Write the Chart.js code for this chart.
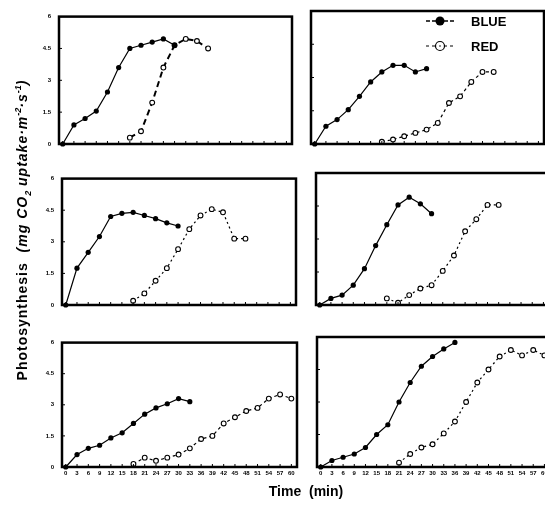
<!DOCTYPE html>
<html lang="en">
<head>
    <meta charset="UTF-8">
    <title>Photosynthesis - Blue vs Red</title>
    <script src="https://cdn.jsdelivr.net/npm/chart.js"></script>
    <style>
        html, body { margin: 0; padding: 0; background: #fff; overflow: hidden; }
        #app { position: relative; width: 545px; height: 510px; overflow: hidden; font-family: "Liberation Sans", Arial, sans-serif; }
        #app canvas { position: absolute; }
        .ytitle {
            position: absolute; left: -167px; top: 221px; width: 370px; height: 18px;
            line-height: 18px; text-align: center; transform: rotate(-90deg);
            font-weight: bold; font-size: 14px; letter-spacing: 1px; color: #000; white-space: nowrap;
        }
        .ytitle i { font-style: italic; }
        .ytitle sub, .ytitle sup { font-size: 9px; letter-spacing: 0; }
        .xtitle {
            position: absolute; left: 256px; top: 483px; width: 100px; text-align: center;
            font-weight: bold; font-size: 14px; color: #000;
        }
        .legend { position: absolute; left: 425px; top: 14px; font-weight: bold; font-size: 13px; color: #000; }
        .legend div { height: 25px; line-height: 16px; display: flex; align-items: flex-start; }
        .legend svg { margin-right: 16px; }
    </style>
</head>
<body>
    <div id="app">
        <canvas id="p1"></canvas>
        <canvas id="p2"></canvas>
        <canvas id="p3"></canvas>
        <canvas id="p4"></canvas>
        <canvas id="p5"></canvas>
        <canvas id="p6"></canvas>

        <div class="ytitle">Photosynthesis &nbsp;<i>(mg CO<sub>2</sub> uptake·m<sup>-2</sup>·s<sup>-1</sup>)</i></div>
        <div class="xtitle">Time &nbsp;(min)</div>

        <div class="legend">
            <div>
                <svg width="30" height="14"><line x1="1" y1="7" x2="29" y2="7" stroke="#000" stroke-width="1.5" stroke-dasharray="4,2"/><circle cx="15" cy="7" r="4.5" fill="#000"/></svg>BLUE
            </div>
            <div>
                <svg width="30" height="14"><line x1="1" y1="7" x2="29" y2="7" stroke="#000" stroke-width="1.2" stroke-dasharray="3,3"/><circle cx="15" cy="7" r="4.5" fill="#fff" stroke="#000" stroke-width="1.2"/><circle cx="15" cy="7" r="0.8" fill="#000"/></svg>RED
            </div>
        </div>
    </div>

    <script>
        // time axis (min) and photosynthesis axis tick labels
        const timeTicks = [0, 3, 6, 9, 12, 15, 18, 21, 24, 27, 30, 33, 36, 39, 42, 45, 48, 51, 54, 57, 60];
        const yTicks = [0, 1.5, 3, 4.5, 6];
        const step = 3;

        // values, one reading every 3 min
        // blue series all start at t = 0, red series start later
        const blue1 = [0, 0.9, 1.2, 1.55, 2.45, 3.6, 4.5, 4.65, 4.8, 4.95, 4.65];
        const red1Start = 18;
        const red1 = [0.3, 0.6, 1.95, 3.6, 4.65, 4.95, 4.85, 4.5];

        const blue2 = [0, 0.8, 1.1, 1.55, 2.15, 2.8, 3.25, 3.55, 3.55, 3.25, 3.4];
        const red2Start = 18;
        const red2 = [0.1, 0.2, 0.35, 0.5, 0.65, 0.95, 1.85, 2.15, 2.8, 3.25, 3.25];

        const blue3 = [0, 1.75, 2.5, 3.25, 4.2, 4.35, 4.4, 4.25, 4.1, 3.9, 3.75];
        const red3Start = 18;
        const red3 = [0.2, 0.55, 1.15, 1.75, 2.65, 3.6, 4.25, 4.55, 4.4, 3.15, 3.15];

        const blue4 = [0, 0.3, 0.45, 0.9, 1.65, 2.7, 3.65, 4.55, 4.9, 4.6, 4.15];
        const red4Start = 18;
        const red4 = [0.3, 0.1, 0.45, 0.75, 0.9, 1.55, 2.25, 3.35, 3.9, 4.55, 4.55];

        const blue5 = [0, 0.6, 0.9, 1.05, 1.4, 1.65, 2.1, 2.55, 2.85, 3.05, 3.3, 3.15];
        const red5Start = 18;
        const red5 = [0.15, 0.45, 0.3, 0.45, 0.6, 0.9, 1.35, 1.5, 2.1, 2.4, 2.7, 2.85, 3.3, 3.5, 3.3];

        const blue6 = [0, 0.3, 0.45, 0.6, 0.9, 1.5, 1.95, 3.0, 3.9, 4.65, 5.1, 5.45, 5.75];
        const red6Start = 21;
        const red6 = [0.2, 0.6, 0.9, 1.05, 1.55, 2.1, 3.0, 3.9, 4.5, 5.1, 5.4, 5.15, 5.4, 5.15];

        function toPoints(start, values) {
            return values.map((v, i) => ({ x: start + step * i, y: v }));
        }

        // thick box round the plot area plus small inward tick marks
        const framePlugin = {
            id: 'frame',
            afterDraw(chart) {
                const { ctx, chartArea: a, scales } = chart;
                ctx.save();
                ctx.strokeStyle = '#000';
                ctx.lineWidth = 1;
                ctx.beginPath();
                timeTicks.forEach(t => {
                    const x = scales.x.getPixelForValue(t);
                    ctx.moveTo(x, a.bottom);
                    ctx.lineTo(x, a.bottom - 3);
                });
                yTicks.forEach(v => {
                    const y = scales.y.getPixelForValue(v);
                    ctx.moveTo(a.left, y);
                    ctx.lineTo(a.left + 3, y);
                });
                ctx.stroke();
                ctx.lineWidth = 2.5;
                ctx.strokeRect(a.left, a.top, a.right - a.left, a.bottom - a.top);
                ctx.restore();
            }
        };

        // plot boxes per row (the scanned figure is slightly skewed)
        const rows = [
            { top: 11, bottom: 144, cols: [{ left: 59, right: 292 }, { left: 311, right: 544 }] },
            { top: 173, bottom: 305, cols: [{ left: 62, right: 296 }, { left: 316, right: 549 }] },
            { top: 337, bottom: 467, cols: [{ left: 62, right: 297 }, { left: 317, right: 550 }] }
        ];
        const yAxisW = 45, xAxisH = 16, padTop = 6, padRight = 10;

        function makePanel(id, col, row, blue, redStart, red, redDash, redWidth) {
            const r = rows[row];
            const box = { left: r.cols[col].left, right: r.cols[col].right, top: r.top, bottom: r.bottom };
            const canvas = document.getElementById(id);
            const w = box.right - box.left + yAxisW + padRight;
            const h = box.bottom - box.top + padTop + xAxisH;
            canvas.width = w;
            canvas.height = h;
            canvas.style.width = w + 'px';
            canvas.style.height = h + 'px';
            canvas.style.left = (box.left - yAxisW) + 'px';
            canvas.style.top = (box.top - padTop) + 'px';

            const tickFont = { family: '"Liberation Sans", Arial, sans-serif', size: 6, weight: 'bold' };

            new Chart(canvas.getContext('2d'), {
                type: 'line',
                data: {
                    datasets: [
                        {
                            label: 'BLUE',
                            data: toPoints(0, blue),
                            borderColor: '#000',
                            borderWidth: 1.2,
                            pointRadius: 2.6,
                            pointBackgroundColor: '#000',
                            pointBorderColor: '#000',
                            pointBorderWidth: 0,
                            tension: 0,
                            clip: false
                        },
                        {
                            label: 'RED',
                            data: toPoints(redStart, red),
                            borderColor: '#000',
                            borderWidth: redWidth,
                            borderDash: redDash,
                            pointRadius: 2.4,
                            pointBackgroundColor: '#fff',
                            pointBorderColor: '#000',
                            pointBorderWidth: 1.1,
                            tension: 0,
                            clip: false
                        }
                    ]
                },
                options: {
                    responsive: false,
                    animation: false,
                    devicePixelRatio: 1,
                    layout: { autoPadding: false, padding: { top: padTop, right: padRight, left: 0, bottom: 0 } },
                    plugins: { legend: { display: false }, tooltip: { enabled: false } },
                    scales: {
                        x: {
                            type: 'linear',
                            min: -1,
                            max: 61.5,
                            afterBuildTicks: s => { s.ticks = timeTicks.map(v => ({ value: v })); },
                            afterFit: s => { s.height = xAxisH; },
                            grid: { display: false, drawTicks: false },
                            border: { display: false },
                            ticks: {
                                display: row === 2,
                                autoSkip: false,
                                maxRotation: 0,
                                padding: 3,
                                color: '#000',
                                font: tickFont
                            }
                        },
                        y: {
                            min: 0,
                            max: 6,
                            afterBuildTicks: s => { s.ticks = yTicks.map(v => ({ value: v })); },
                            afterFit: s => { s.width = yAxisW; },
                            grid: { display: false, drawTicks: false },
                            border: { display: false },
                            ticks: {
                                display: col === 0,
                                padding: 8,
                                color: '#000',
                                font: tickFont
                            }
                        }
                    }
                },
                plugins: [framePlugin]
            });
        }

        makePanel('p1', 0, 0, blue1, red1Start, red1, [6, 4], 2);
        makePanel('p2', 1, 0, blue2, red2Start, red2, [3, 3], 1.2);
        makePanel('p3', 0, 1, blue3, red3Start, red3, [2, 3], 1.2);
        makePanel('p4', 1, 1, blue4, red4Start, red4, [2, 3], 1.2);
        makePanel('p5', 0, 2, blue5, red5Start, red5, [3, 3], 1.2);
        makePanel('p6', 1, 2, blue6, red6Start, red6, [2, 3], 1.2);
    </script>
</body>
</html>
